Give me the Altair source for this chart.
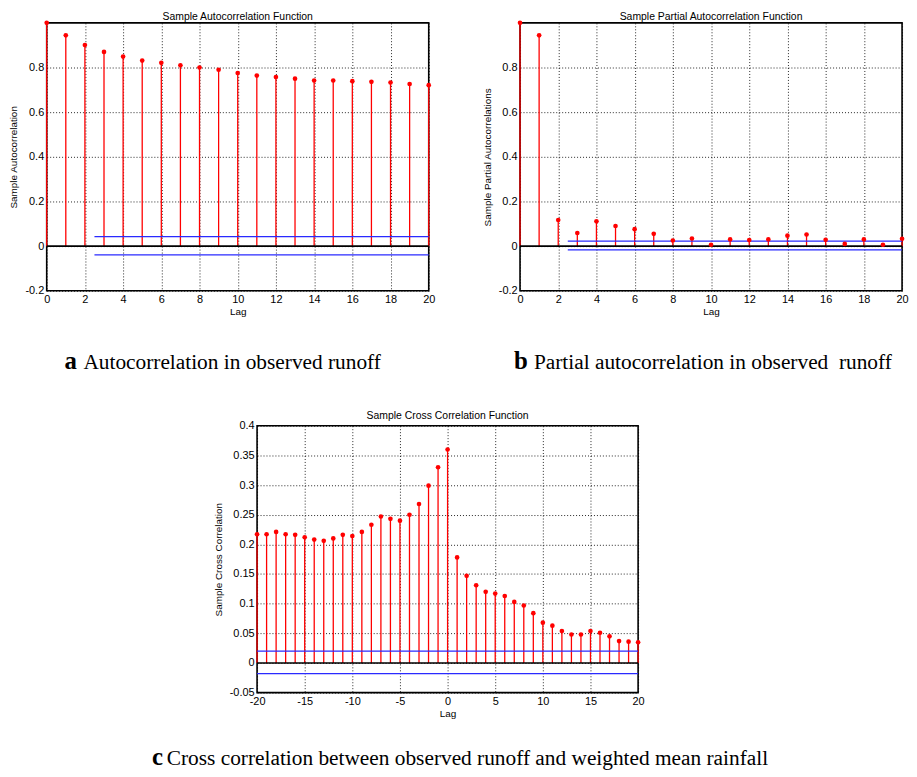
import altair as alt
import pandas as pd

# ---------------- data ----------------
lags_ab = list(range(0, 21))
acf_vals = [1.0, 0.944, 0.901, 0.870, 0.849, 0.831, 0.821, 0.810, 0.800, 0.790, 0.775,
            0.764, 0.757, 0.750, 0.742, 0.742, 0.739, 0.736, 0.733, 0.726, 0.721]
pacf_vals = [1.0, 0.944, 0.117, 0.059, 0.111, 0.090, 0.076, 0.055, 0.025, 0.034, 0.006,
             0.030, 0.027, 0.030, 0.047, 0.052, 0.028, 0.010, 0.030, 0.006, 0.033]
lags_c = list(range(-20, 21))
xcf_vals = [0.217, 0.217, 0.221, 0.217, 0.216, 0.212, 0.208, 0.206, 0.210, 0.216, 0.214,
            0.221, 0.233, 0.247, 0.243, 0.240, 0.250, 0.268, 0.299, 0.330, 0.360,
            0.178, 0.147, 0.131, 0.120, 0.117, 0.113, 0.103, 0.097, 0.084, 0.068,
            0.063, 0.054, 0.048, 0.048, 0.054, 0.051, 0.045, 0.037, 0.036, 0.035]

bounds_a = [0.043, -0.039]
bounds_b = [0.022, -0.017]
bounds_c = [0.020, -0.018]
bound_x_ab = [2.5, 20]
bound_x_c = [-20, 20]

xticks_ab = [0, 2, 4, 6, 8, 10, 12, 14, 16, 18, 20]
yticks_ab = [-0.2, 0, 0.2, 0.4, 0.6, 0.8]
xticks_c = [-20, -15, -10, -5, 0, 5, 10, 15, 20]
yticks_c = [-0.05, 0, 0.05, 0.1, 0.15, 0.2, 0.25, 0.3, 0.35, 0.4]

titles = ["Sample Autocorrelation Function", "Sample Partial Autocorrelation Function",
          "Sample Cross Correlation Function"]
ytitles = ["Sample Autocorrelation", "Sample Partial Autocorrelations", "Sample Cross Correlation"]
cap_letters = ["a", "b", "c"]
cap_texts = ["Autocorrelation in observed runoff",
             "Partial autocorrelation in observed\u00a0 runoff",
             "Cross correlation between observed runoff and weighted mean rainfall"]

SANS = "Liberation Sans"
SERIF = "Liberation Serif"
W, H = 385, 270


def panel(lags, vals, bounds, bx, xdom, ydom, xt, yt, title, ytitle,
          letter, text, lx, tx, cy, w=W, h=H):
    df = pd.DataFrame({"lag": lags, "v": vals, "base": [0] * len(lags)})
    xs = alt.Scale(domain=xdom, nice=False, zero=False)
    ys = alt.Scale(domain=ydom, nice=False, zero=False)
    xax = alt.Axis(values=xt, title="Lag", grid=True, labelOverlap=False, labelFlush=False,
                   labelExpr="datum.value + ''")
    yax = alt.Axis(values=yt, title=ytitle, grid=True, labelOverlap=False, labelFlush=False,
                   labelExpr="datum.value + ''")
    base = alt.Chart(df)
    stems = base.mark_rule(color="#ff0000", strokeWidth=1.3).encode(
        x=alt.X("lag:Q", scale=xs, axis=xax),
        y=alt.Y("v:Q", scale=ys, axis=yax),
        y2="base:Q")
    dots = base.mark_circle(color="#ff0000", size=22, opacity=1).encode(
        x=alt.X("lag:Q", scale=xs, axis=xax), y=alt.Y("v:Q", scale=ys, axis=yax))
    bdf = pd.DataFrame({"x0": [bx[0]] * 2, "x1": [bx[1]] * 2, "b": bounds})
    blines = alt.Chart(bdf).mark_rule(color="#2a2aff", strokeWidth=1.3).encode(
        x=alt.X("x0:Q", scale=xs, axis=xax), x2="x1:Q", y=alt.Y("b:Q", scale=ys, axis=yax))
    zero = alt.Chart(pd.DataFrame({"z": [0]})).mark_rule(
        color="black", strokeWidth=1.6).encode(y=alt.Y("z:Q", scale=ys, axis=yax))
    cap1 = alt.Chart(pd.DataFrame({"t": [letter]})).mark_text(
        font=SERIF, fontSize=25, fontWeight="bold", align="left", baseline="alphabetic",
        color="black").encode(text="t:N", x=alt.value(lx), y=alt.value(cy))
    cap2 = alt.Chart(pd.DataFrame({"t": [text]})).mark_text(
        font=SERIF, fontSize=21.5, align="left", baseline="alphabetic",
        color="black").encode(text="t:N", x=alt.value(tx), y=alt.value(cy))
    return alt.layer(stems, zero, blines, dots, cap1, cap2).properties(
        width=w, height=h,
        title=alt.TitleParams(title, fontSize=10.5, fontWeight="normal", font=SANS,
                              color="black", offset=-2, anchor="middle"))


a = panel(lags_ab, acf_vals, bounds_a, bound_x_ab, [0, 20], [-0.2, 1.0], xticks_ab, yticks_ab,
          titles[0], ytitles[0], cap_letters[0], cap_texts[0], 18, 37, 349)
b = panel(lags_ab, pacf_vals, bounds_b, bound_x_ab, [0, 20], [-0.2, 1.0], xticks_ab, yticks_ab,
          titles[1], ytitles[1], cap_letters[1], cap_texts[1], -6, 14, 349)
c = panel(lags_c, xcf_vals, bounds_c, bound_x_c, [-20, 20], [-0.05, 0.4], xticks_c, yticks_c,
          titles[2], ytitles[2], cap_letters[2], cap_texts[2], -106, -91, 342, w=384, h=269)

spacer = alt.Chart(pd.DataFrame({"s": [0]})).mark_point(opacity=0).encode(
    x=alt.value(0), y=alt.value(0)).properties(
    width=104, height=1, view=alt.ViewBackground(stroke="transparent"))

top = alt.hconcat(a, b, spacing=46)
bottom = alt.hconcat(spacer, c, spacing=0)
chart = alt.vconcat(top, bottom, spacing=35).properties(padding=0).configure_view(
    stroke="black", strokeWidth=1.6
).configure_axis(
    labelFont=SANS, labelFontSize=11, labelColor="black", labelPadding=3,
    labelOverlap=False, labelFlush=False,
    titleFont=SANS, titleFontSize=10, titleFontWeight="normal", titleColor="black",
    titlePadding=2, tickSize=0, domain=False, zindex=0,
    gridColor="black", gridDash=[1, 2], gridOpacity=0.85, gridWidth=1
).configure_axisY(titlePadding=6)

chart.save("out.html", embed_options={"renderer": "svg", "actions": False})
